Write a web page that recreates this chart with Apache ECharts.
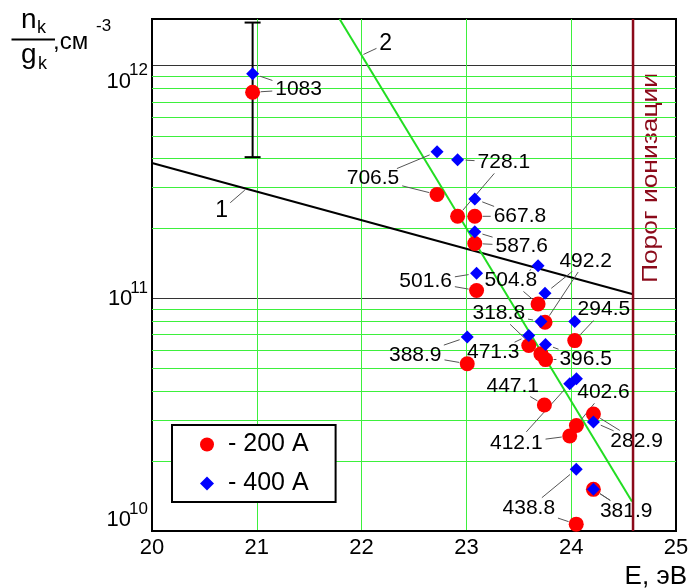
<!DOCTYPE html>
<html><head><meta charset="utf-8">
<script src="https://cdn.jsdelivr.net/npm/echarts@6/dist/echarts.min.js"></script>
<style>html,body{margin:0;padding:0;background:#fff}#c{width:689px;height:588px}</style>
</head><body><div id="c"></div>
<script>
// ---------- data ----------
const lineLabels = ['1083','706.5','728.1','667.8','587.6','501.6','388.9','471.3','504.8','492.2','318.8','396.5','447.1','294.5','412.1','402.6','438.8','282.9','381.9'];
const energy = [20.96,22.72,22.916,23.08,23.08,23.097,23.008,23.595,23.684,23.75,23.711,23.755,23.744,24.034,23.986,24.05,24.048,24.212,24.212];
const n200 = [7.68e11,2.79e11,2.25e11,2.25e11,1.72e11,1.08e11,5.23e10,6.27e10,9.45e10,7.89e10,5.77e10,5.45e10,3.48e10,6.58e10,2.56e10,2.84e10,1.07e10,3.18e10,1.51e10];
const n400 = [9.23e11,4.26e11,3.94e11,2.67e11,1.93e11,1.28e11,6.81e10,6.92e10,1.38e11,1.05e11,7.94e10,6.33e10,null,7.94e10,4.29e10,4.51e10,1.84e10,2.94e10,1.51e10];
// annotation anchors (data units)
const labelE = [21.399,22.109,23.357,23.511,23.528,22.611,22.512,23.256,23.424,24.138,23.309,24.138,23.442,24.312,23.476,24.308,23.596,24.624,24.525];
const labelN = [7.89e11,3.27e11,3.84e11,2.25e11,1.68e11,1.18e11,5.71e10,5.86e10,1.19e11,1.45e11,8.61e10,5.48e10,4.19e10,8.95e10,2.39e10,3.95e10,1.25e10,2.44e10,1.22e10];
// fitted lines 1 and 2
const line1E = [20, 24.59];
const line1N = [3.81e11, 1.04e11];
const line2E = [21.79, 24.58];
const line2N = [1.585e12, 1.34e10];
const curveLabels = ['1','2'];
const curveLabelE = [20.664, 22.229];
const curveLabelN = [2.39e11, 1.236e12];
const curveTargetE = [20.9, 22.0];
// ionization threshold
const ionE = [24.59];
const ionText = ['Порог ионизации'];
// error bar on the 1083 level
const errE = [20.96];
const errLow = [4.04e11];
const errHigh = [1.53e12];
// axes
const xTicks = [20,21,22,23,24,25];
const yDecades = [10,11,12];
const yMaxLog = 12.2;
const seriesNames = ['- 200 А','- 400 А'];

// ---------- helpers ----------
const L = Math.log10;
const FONT = '"Liberation Sans", Arial, sans-serif';
const ctx = document.createElement('canvas').getContext('2d');
function tw(t, size){ ctx.font = size + 'px ' + FONT; return ctx.measureText(t).width; }
function interpLog(E, N, e){ const t=(e-E[0])/(E[1]-E[0]); return L(N[0]) + t*(L(N[1])-L(N[0])); }

const redData = []; const blueData = [];
energy.forEach((e,i)=>{ if(n200[i]!=null) redData.push([e, L(n200[i])]); if(n400[i]!=null) blueData.push([e, L(n400[i])]); });

const labelTargets = energy.map((e,i)=>{ const t=[]; if(n200[i]!=null) t.push([e,L(n200[i])]); if(n400[i]!=null) t.push([e,L(n400[i])]); return t; });
const labelData = labelE.map((e,i)=>[e, L(labelN[i])]);
const curveData = curveLabelE.map((e,i)=>[e, L(curveLabelN[i])]);
const curveTargets = [[curveTargetE[0], interpLog(line1E,line1N,curveTargetE[0])],[curveTargetE[1], interpLog(line2E,line2N,curveTargetE[1])]];

const minorVals = [];
yDecades.slice(0,2).forEach(d=>{ for(let k=2;k<=9;k++) minorVals.push([L(k)+d]); });

function leader(c, p, hw, hh, startGap, endGap){
  const dx=p[0]-c[0], dy=p[1]-c[1]; const len=Math.hypot(dx,dy); if(len<1) return null;
  const ux=dx/len, uy=dy/len;
  const s=Math.min(Math.abs(dx)>1e-6?hw/Math.abs(dx):Infinity, Math.abs(dy)>1e-6?hh/Math.abs(dy):Infinity);
  const sx=c[0]+dx*s+ux*startGap, sy=c[1]+dy*s+uy*startGap;
  const ex=p[0]-ux*endGap, ey=p[1]-uy*endGap;
  if((ex-sx)*ux+(ey-sy)*uy<=1) return null;
  return {type:'line', shape:{x1:sx,y1:sy,x2:ex,y2:ey}, style:{stroke:'#555', lineWidth:1}};
}
function makeLabelRenderer(texts, targets, size, endGap){
  return function(params, api){
    const i=params.dataIndex;
    const c=api.coord([api.value(0), api.value(1)]);
    const hw=tw(texts[i], size)/2, hh=size*0.42;
    const children=[{type:'text', style:{text:texts[i], x:c[0], y:c[1], align:'center', verticalAlign:'middle', fontSize:size, fontFamily:FONT, fill:'#000'}}];
    targets[i].forEach(t=>{ const ln=leader(c, api.coord(t), hw, hh, 3, endGap); if(ln) children.push(ln); });
    return {type:'group', children};
  };
}
// y tick labels "10^n" (vertical offsets as in the original)
const yOff = {10:-11, 11:1, 12:16};
function renderYLabel(params, api){
  const d = api.value(1);
  const c = api.coord([xTicks[0], d]);
  const sup = String(d);
  const supW = tw(sup, 17);
  const right = c[0]-4;
  const by = c[1] + yOff[d];
  return {type:'group', children:[
    {type:'text', style:{text:'10', x:right-supW+2, y:by, align:'right', verticalAlign:'middle', fontSize:22, fontFamily:FONT, fill:'#000'}},
    {type:'text', style:{text:sup, x:right, y:by-11, align:'right', verticalAlign:'middle', fontSize:17, fontFamily:FONT, fill:'#000'}}
  ]};
}

const chart = echarts.init(document.getElementById('c'));
chart.setOption({
  animation:false,
  backgroundColor:'#fff',
  grid:{left:152, right:13, top:19, bottom:57, show:true, borderColor:'#000', borderWidth:2, backgroundColor:'transparent', outerBoundsMode:'none', containLabel:false},
  xAxis:{type:'value', min:xTicks[0], max:xTicks[xTicks.length-1], interval:1,
    axisLine:{show:true, lineStyle:{color:'#000', width:2}}, axisTick:{show:false},
    axisLabel:{fontSize:22, fontFamily:FONT, color:'#000', margin:6},
    splitLine:{show:true, showMinLine:false, showMaxLine:false, lineStyle:{color:'#3df03d', width:1}}},
  yAxis:{type:'value', min:yDecades[0], max:yMaxLog, interval:1,
    axisLine:{show:true, lineStyle:{color:'#000', width:2}}, axisTick:{show:false},
    axisLabel:{show:false},
    splitLine:{show:true, showMinLine:false, showMaxLine:false, lineStyle:{color:'#333', width:1}}},
  legend:{data:seriesNames, orient:'vertical', left:172, top:425, itemGap:14, itemWidth:14, itemHeight:14,
    padding:[7,27,6,28], borderColor:'#000', borderWidth:2, backgroundColor:'#fff', borderRadius:0,
    textStyle:{fontSize:25, lineHeight:24, fontFamily:FONT, color:'#000', padding:[0,0,0,9]}},
  graphic:[
    {type:'text', x:21, y:20, style:{text:'n', fontSize:28, fontFamily:FONT, fill:'#000', align:'left', verticalAlign:'middle'}},
    {type:'text', x:37, y:28, style:{text:'k', fontSize:18, fontFamily:FONT, fill:'#000', align:'left', verticalAlign:'middle'}},
    {type:'line', shape:{x1:11.5, y1:39.5, x2:55, y2:39.5}, style:{stroke:'#000', lineWidth:2}},
    {type:'text', x:21, y:55, style:{text:'g', fontSize:28, fontFamily:FONT, fill:'#000', align:'left', verticalAlign:'middle'}},
    {type:'text', x:38, y:64, style:{text:'k', fontSize:18, fontFamily:FONT, fill:'#000', align:'left', verticalAlign:'middle'}},
    {type:'text', x:53, y:42, style:{text:',см', fontSize:24, fontFamily:FONT, fill:'#000', align:'left', verticalAlign:'middle'}},
    {type:'text', x:96, y:26, style:{text:'-3', fontSize:17, fontFamily:FONT, fill:'#000', align:'left', verticalAlign:'middle'}},
    {type:'text', x:687, y:577, style:{text:'E, эВ', fontSize:26, fontFamily:FONT, fill:'#000', align:'right', verticalAlign:'middle'}},
    {type:'text', x:651, y:178, rotation:Math.PI/2, scaleX:1.2, style:{text:ionText[0], fontSize:22, fontFamily:FONT, fill:'#8b0a1a', align:'center', verticalAlign:'middle'}}
  ],
  series:[
    {type:'custom', name:'minor', z:1, silent:true, data:minorVals,
      renderItem:(params, api)=>{ const a=api.coord([xTicks[0], api.value(0)]), b=api.coord([xTicks[xTicks.length-1], api.value(0)]); const y=Math.round(a[1])+0.5;
        return {type:'line', shape:{x1:a[0], y1:y, x2:b[0], y2:y}, style:{stroke:'#3df03d', lineWidth:1}}; }},
    {type:'custom', name:'yLabels', z:1, silent:true, clip:false, data:yDecades.map(d=>[xTicks[0], d]), renderItem:renderYLabel},
    {type:'line', name:'line1', z:3, silent:true, symbol:'none', data:line1E.map((e,i)=>[e, L(line1N[i])]), lineStyle:{color:'#000', width:2}},
    {type:'line', name:'line2', z:3, silent:true, symbol:'none', data:line2E.map((e,i)=>[e, L(line2N[i])]), lineStyle:{color:'#22dd22', width:2}},
    {type:'custom', name:'err', z:4, silent:true, data:errE.map((e,i)=>[e, L(errLow[i]), L(errHigh[i])]),
      renderItem:(params, api)=>{ const lo=api.coord([api.value(0), api.value(1)]), hi=api.coord([api.value(0), api.value(2)]); const st={stroke:'#000', lineWidth:2};
        return {type:'group', children:[
          {type:'line', shape:{x1:lo[0],y1:lo[1],x2:hi[0],y2:hi[1]}, style:st},
          {type:'line', shape:{x1:lo[0]-8,y1:lo[1],x2:lo[0]+8,y2:lo[1]}, style:st},
          {type:'line', shape:{x1:hi[0]-8,y1:hi[1],x2:hi[0]+8,y2:hi[1]}, style:st}]}; }},
    {type:'custom', name:'labels', z:5, silent:true, clip:false, data:labelData, renderItem:makeLabelRenderer(lineLabels, labelTargets, 21, 8)},
    {type:'custom', name:'curveLabels', z:5, silent:true, clip:false, data:curveData, renderItem:makeLabelRenderer(curveLabels, curveTargets.map(t=>[t]), 23, 2)},
    {type:'scatter', name:seriesNames[0], z:6, symbol:'circle', symbolSize:15, itemStyle:{color:'#ff0000', opacity:1}, data:redData},
    {type:'scatter', name:seriesNames[1], z:7, symbol:'diamond', symbolSize:13, itemStyle:{color:'#0000ff', opacity:1}, data:blueData},
    {type:'line', name:'ion', z:8, silent:true, symbol:'none', data:[[ionE[0], yDecades[0]],[ionE[0], yMaxLog]], lineStyle:{color:'#8b0a1a', width:2.5}}
  ]
});
</script></body></html>
